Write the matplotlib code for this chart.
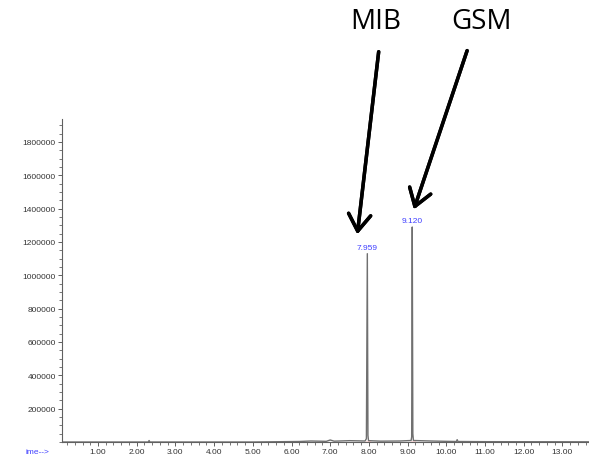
import matplotlib.pyplot as plt
from matplotlib.ticker import MultipleLocator

# Cromatograma (tiempo en min, abundancia)
tiempo = [0.07, 2.3, 2.32, 2.34, 5.0, 6.2, 6.5, 6.9, 7.0, 7.1, 7.5, 7.9, 7.935,
          7.959, 7.975, 7.99, 8.3, 8.8, 9.09, 9.105, 9.120, 9.135, 9.15, 9.6,
          10.0, 10.26, 10.28, 10.30, 11.0, 13.9, 14.1]
abundancia = [0, 0, 9000, 0, 0, 3000, 6000, 4000, 12000, 5000, 8000, 6000, 20000,
              1130000, 40000, 8000, 5000, 6000, 9000, 30000, 1290000, 50000, 9000, 6000,
              4000, 3000, 14000, 3000, 2000, 1000, 1000]

picos_t = [7.959, 9.120]
picos_h = [1130000, 1290000]
picos_txt = ["7.959", "9.120"]

compuestos = ["MIB", "GSM"]

fig = plt.figure(figsize=(5.89, 4.60), dpi=100)
W, H = 589, 460
ax = fig.add_axes([62 / W, (H - 443) / H, (605 - 62) / W, (443 - 120) / H])

ax.plot(tiempo, abundancia, color='#707070', lw=1.0)

# marcas de integracion rojas en la base
for t in picos_t:
    ax.plot([t - 0.04, t + 0.06], [0, 0], color='#ff6060', lw=1.0)

for t, h, s in zip(picos_t, picos_h, picos_txt):
    ax.text(t, h + 15000, s, ha='center', va='bottom', color='#4040ff',
            fontsize=6, family='Liberation Sans')

ax.set_xlim(0.07, 14.1)
ax.set_ylim(0, 1938000)
ax.xaxis.set_major_locator(MultipleLocator(1.0))
ax.xaxis.set_minor_locator(MultipleLocator(0.2))
ax.yaxis.set_major_locator(MultipleLocator(200000))
ax.yaxis.set_minor_locator(MultipleLocator(50000))
ax.set_yticks([v for v in range(200000, 1900000, 200000)])
ax.xaxis.set_major_formatter(lambda v, p: f"{v:.2f}")
ax.yaxis.set_major_formatter(lambda v, p: f"{int(v)}")

for s in ['top', 'right']:
    ax.spines[s].set_visible(False)
for s in ['left', 'bottom']:
    ax.spines[s].set_color('#606060')
    ax.spines[s].set_linewidth(0.8)

ax.tick_params(axis='both', which='major', labelsize=6, colors='#606060',
               labelcolor='#333333', length=3, width=0.7, pad=1.5)
ax.tick_params(axis='both', which='minor', colors='#606060', length=2, width=0.6)
for lab in ax.get_xticklabels() + ax.get_yticklabels():
    lab.set_family('Liberation Sans')

fig.text(25 / W, 1 - 453 / H, "ime-->", color='#4040ff', fontsize=6,
         family='Liberation Sans', va='center', ha='left')

# flechas y nombres
def fc(x, y):
    return (x / W, 1 - y / H)

flechas = [((379, 50), (357, 238)), ((468, 49), (413, 213))]
textos_pos = [(376, 22), (482, 22)]
for nombre, (ini, fin), pos in zip(compuestos, flechas, textos_pos):
    fig.text(*fc(*pos), nombre, fontsize=20, family='Open Sans',
             ha='center', va='center', color='black')
    fig.add_artist(plt.annotate('', xy=fc(*fin), xytext=fc(*ini),
                                xycoords='figure fraction', textcoords='figure fraction',
                                arrowprops=dict(arrowstyle='->,head_length=1.2,head_width=0.8',
                                                color='black', lw=2.5)))

fig.savefig('out.png', dpi=100)
